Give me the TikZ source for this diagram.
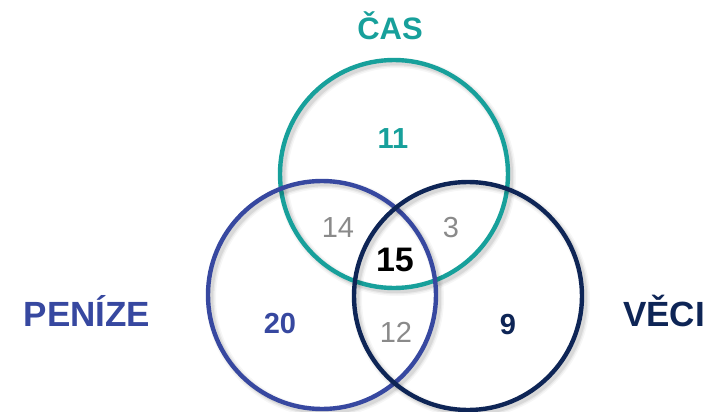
\documentclass[tikz,border=0pt]{standalone}
\usepackage{fontspec}
\setmainfont{Liberation Sans}
\definecolor{teal1}{HTML}{17A09B}
\definecolor{blue1}{HTML}{3748A0}
\definecolor{navy1}{HTML}{0E2556}
\definecolor{gray1}{HTML}{8A8A8A}
\tikzset{
  ring/.style={circle, minimum size=228pt, inner sep=0pt, line width=4.4pt},
  ringshadow/.style={circle, minimum size=228pt, inner sep=0pt, draw=black},
  setlabel/.style={font=\bfseries\fontsize{31}{31}\selectfont, inner sep=0pt},
  widelabel/.style={font=\bfseries\fontsize{35}{35}\selectfont, inner sep=0pt},
  solo/.style={font=\bfseries\fontsize{29}{29}\selectfont, inner sep=0pt},
  pair/.style={font=\fontsize{29}{29}\selectfont, text=gray1, inner sep=0pt},
  core/.style={font=\bfseries\fontsize{34}{34}\selectfont, text=black, inner sep=0pt}
}
\newcommand{\softshadow}[1]{%
  \node[ringshadow, line width=10pt, draw opacity=0.035] at ($(#1)+(3,3)$) {};
  \node[ringshadow, line width=7pt, draw opacity=0.05] at ($(#1)+(3,3)$) {};
  \node[ringshadow, line width=4.5pt, draw opacity=0.07] at ($(#1)+(3,3)$) {};
}
\usetikzlibrary{calc}
\begin{document}
\begin{tikzpicture}[x=1pt, y=-1pt]
\useasboundingbox (0,0) rectangle (710,412);
\fill[white] (0,0) rectangle (710,412);

% circle centres
\coordinate (ct) at (394,174);
\coordinate (cl) at (322,295);
\coordinate (cr) at (468,296);

% top set
\softshadow{ct}
\node[ring, draw=teal1] (cas) at (ct) {};
% left set
\softshadow{cl}
\node[ring, draw=blue1] (penize) at (cl) {};
% right set
\softshadow{cr}
\node[ring, draw=navy1] (veci) at (cr) {};

% set names
\node[setlabel, text=teal1, anchor=base] (tcas) at (390,40) {ČAS};
\node[widelabel, text=blue1, anchor=base] (tpenize) at (87,326) {PENÍZE};
\node[widelabel, text=navy1, anchor=base] (tveci) at (664,326) {VĚCI};

% region counts
\node[solo, text=teal1] (n11) at (393,139) {11};
\node[solo, text=blue1] (n20) at (280,324) {20};
\node[solo, text=navy1] (n9) at (508,325) {9};
\node[pair] (n14) at (338,228) {14};
\node[pair] (n3) at (451,228) {3};
\node[pair] (n12) at (396,332) {12};
\node[core] (n15) at (395,260) {15};
\end{tikzpicture}
\end{document}
